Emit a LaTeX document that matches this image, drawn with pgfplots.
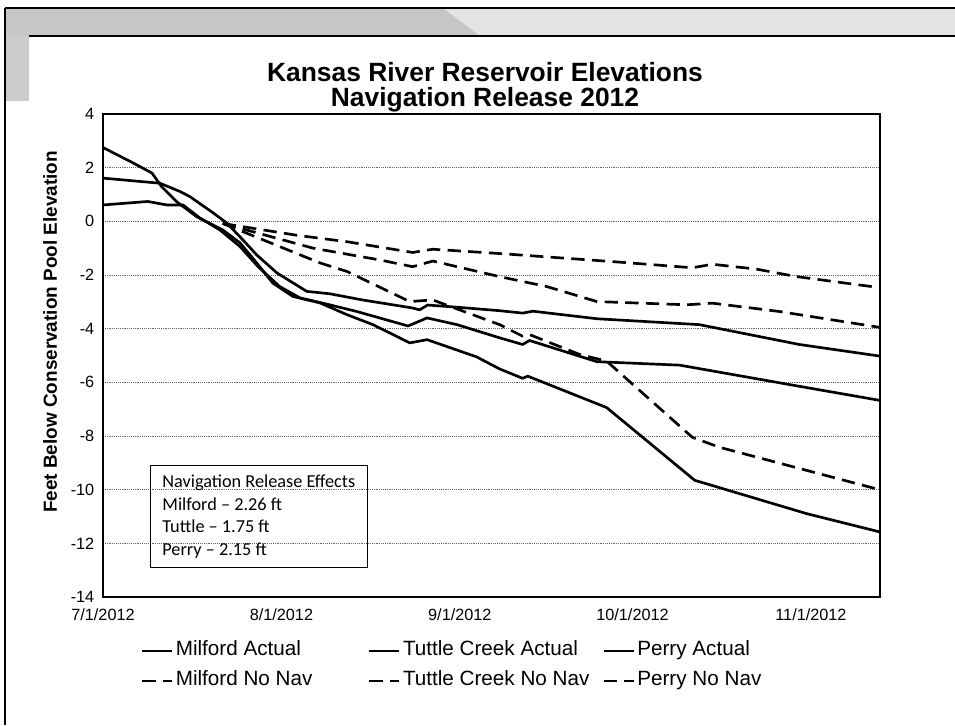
\documentclass[border=0pt]{standalone}
\usepackage{fontspec}
\setmainfont{Liberation Sans}
\newfontfamily\carlito{Carlito}
\usepackage{pgfplots}
\usepackage{pgfplotstable}
\pgfplotsset{compat=1.18}

\pgfplotstableread{
d v
0 2.75
5.2 2.18
8.5 1.8
10.2 1.29
12.8 0.73
16.3 0.17
20.8 -0.32
23.8 -0.8
26.7 -1.55
29.5 -2.3
33.0 -2.8
37.7 -3.04
42.4 -3.48
46.9 -3.85
53.3 -4.53
56.3 -4.41
64.9 -5.05
68.9 -5.5
72.9 -5.85
73.8 -5.77
87.5 -6.94
102.8 -9.65
122.2 -10.89
134.9 -11.57
}\tuttleact

\pgfplotstableread{
d v
0 1.61
9.9 1.42
13.4 1.11
15.1 0.92
19.1 0.32
21.5 -0.06
24.3 -0.69
26.7 -1.25
30.2 -1.92
35.4 -2.61
39.4 -2.7
45.1 -2.93
53.8 -3.23
55.0 -3.3
56.4 -3.12
61.5 -3.2
68.9 -3.33
72.9 -3.42
74.7 -3.35
85.8 -3.63
103.6 -3.85
121.0 -4.59
134.9 -5.02
}\milfordact

\pgfplotstableread{
d v
0 0.61
7.8 0.74
11.1 0.61
13.9 0.61
16.8 0.13
20.3 -0.32
23.8 -0.94
27.0 -1.7
30.7 -2.43
34.2 -2.85
38.2 -3.05
44.1 -3.36
53.0 -3.9
56.3 -3.6
61.5 -3.85
68.9 -4.34
72.9 -4.59
74.1 -4.44
85.8 -5.23
100.2 -5.36
120.5 -6.13
134.9 -6.67
}\perryact

\pgfplotstableread{
d v
20.8 -0.08
33.7 -0.52
42.4 -0.76
53.8 -1.16
57.3 -1.04
68.9 -1.2
88.5 -1.5
102.4 -1.73
105.9 -1.6
113.5 -1.78
120.5 -2.06
134.9 -2.47
}\milfordno

\pgfplotstableread{
d v
20.8 -0.08
37.7 -1.55
42.4 -1.87
53.3 -2.99
57.3 -2.93
68.9 -3.85
72.9 -4.28
74.1 -4.22
82.8 -4.96
87.5 -5.21
102.4 -8.05
107.1 -8.42
134.9 -10.0
}\tuttleno

\pgfplotstableread{
d v
20.8 -0.08
36.5 -1.0
48.1 -1.44
53.8 -1.69
57.3 -1.48
68.9 -2.06
77.1 -2.43
85.8 -2.99
101.4 -3.11
105.9 -3.05
117.5 -3.36
134.9 -3.95
}\perryno

\begin{document}
\begin{tikzpicture}
\useasboundingbox (0,0) rectangle (716.25pt,543.75pt);
% scanned slide frame
\fill[gray!22] (3.75pt,516.75pt) rectangle (716.25pt,537.75pt);
\fill[gray!45] (3.75pt,537.75pt) -- (332pt,537.75pt) -- (360pt,516.75pt) -- (3.75pt,516.75pt) -- cycle;
\fill[gray!40] (3.75pt,516.75pt) rectangle (22pt,468pt);
\draw[line width=0.8pt] (22pt,516.75pt) -- (716.25pt,516.75pt);
\draw[line width=1.6pt] (3.75pt,537.75pt) -- (716.25pt,537.75pt);
\draw[line width=2.2pt] (3.75pt,0pt) -- (3.75pt,537.75pt);

\begin{axis}[
  at={(77.25pt,96pt)}, anchor=south west,
  scale only axis, width=582.75pt, height=362.25pt,
  xmin=0, xmax=135, ymin=-14, ymax=4,
  xtick={0,31,62,92,123},
  xticklabels={7/1/2012,8/1/2012,9/1/2012,10/1/2012,11/1/2012},
  ytick={-14,-12,...,4},
  major tick length=0pt,
  ymajorgrids, grid style={densely dotted, black!60, line width=0.6pt},
  axis line style={line width=0.9pt},
  tick label style={font=\fontsize{12.2}{14}\selectfont},
  /pgf/number format/assume math mode=true,
  yticklabel style={xshift=-3pt},
  xticklabel style={yshift=-5pt},
  every axis plot/.append style={line width=2pt, black, line join=round},
  legend cell align=left,
  legend columns=3,
  legend image code/.code={\draw[#1, line width=1.4pt] (0pt,0pt) -- (22.5pt,0pt);},
  legend style={draw=none, fill=none, at={(rel axis cs:0.0438,-0.074)}, anchor=north west,
    font=\fontsize{15.5}{18}\selectfont,
    nodes={text height=11pt, text depth=3.5pt, inner ysep=4pt},
    /tikz/column 2/.style={column sep=40pt},
    /tikz/column 4/.style={column sep=8pt}},
]
\addplot[solid] table[x=d,y=v] {\milfordact};
\addlegendentry{Milford Actual}
\addplot[solid] table[x=d,y=v] {\tuttleact};
\addlegendentry{Tuttle Creek Actual}
\addplot[solid] table[x=d,y=v] {\perryact};
\addlegendentry{Perry Actual}
\addplot[dash pattern=on 10pt off 5.5pt] table[x=d,y=v] {\milfordno};
\addlegendentry{Milford No Nav}
\addplot[dash pattern=on 10pt off 5.5pt] table[x=d,y=v] {\tuttleno};
\addlegendentry{Tuttle Creek No Nav}
\addplot[dash pattern=on 10pt off 5.5pt] table[x=d,y=v] {\perryno};
\addlegendentry{Perry No Nav}
\end{axis}

\node[font=\bfseries\fontsize{19.8}{24}\selectfont] at (363.75pt,489.75pt) {Kansas River Reservoir Elevations};
\node[font=\bfseries\fontsize{19.8}{24}\selectfont] at (363.75pt,468.75pt) {Navigation Release 2012};
\node[rotate=90, font=\bfseries\fontsize{14.2}{17}\selectfont] at (37.5pt,294.75pt) {Feet Below Conservation Pool Elevation};
\node[draw, line width=0.6pt, anchor=north west, inner xsep=9pt, inner ysep=7pt, align=left,
  font=\carlito\fontsize{13.7}{17}\selectfont] at (112.5pt,195pt)
  {Navigation Release Effects\\Milford – 2.26 ft\\Tuttle – 1.75 ft\\Perry – 2.15 ft};
\end{tikzpicture}
\end{document}
